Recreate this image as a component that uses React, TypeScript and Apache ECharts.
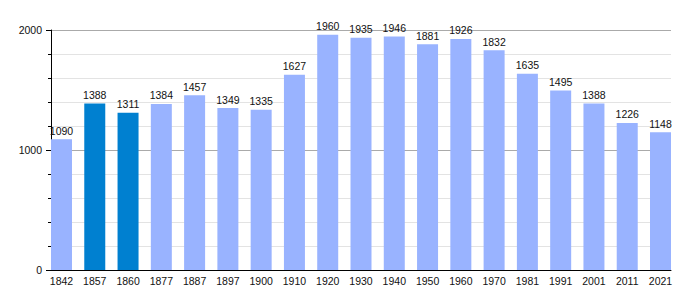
import React, { useEffect, useRef } from "react";
import * as echarts from "echarts";

const years = ["1842","1857","1860","1877","1887","1897","1900","1910","1920","1930","1940","1950","1960","1970","1981","1991","2001","2011","2021"];
const population = [1090,1388,1311,1384,1457,1349,1335,1627,1960,1935,1946,1881,1926,1832,1635,1495,1388,1226,1148];
const highlighted = ["1857","1860"];
const yTicks = [0, 1000, 2000];

const LIGHT = "#99b3ff";
const DARK = "#0080d0";
const FONT = "Liberation Sans";

export default function App() {
  const ref = useRef<HTMLDivElement>(null);
  useEffect(() => {
    if (!ref.current) return;
    const chart = echarts.init(ref.current, undefined, { renderer: "svg" });
    const yMin = yTicks[0];
    const yMax = yTicks[yTicks.length - 1];
    const interval = yTicks[1] - yTicks[0];
    chart.setOption({
      animation: false,
      backgroundColor: "#ffffff",
      grid: [
        { left: 51, right: 29, top: 30, bottom: 30 },
        { left: 44.85, right: 22.85, top: 30, bottom: 30 },
      ],
      xAxis: [
        {
          type: "category",
          gridIndex: 0,
          data: years,
          axisLine: { show: true, lineStyle: { color: "#000", width: 1 } },
          axisTick: { show: false },
          axisLabel: { show: false },
          splitLine: { show: false },
        },
        {
          type: "category",
          gridIndex: 1,
          data: years,
          axisLine: { show: false },
          axisTick: { show: false },
          axisLabel: { show: true, color: "#111", fontFamily: FONT, fontSize: 10.5, margin: 5 },
          splitLine: { show: false },
        },
      ],
      yAxis: [
        {
          type: "value",
          gridIndex: 0,
          min: yMin,
          max: yMax,
          interval,
          axisLine: { show: true, lineStyle: { color: "#000", width: 1 } },
          axisTick: { show: true, length: 5, lineStyle: { color: "#000" } },
          minorTick: { show: true, splitNumber: 5, length: 3, lineStyle: { color: "#000" } },
          axisLabel: {
            color: "#111",
            fontFamily: FONT,
            fontSize: 10.5,
            margin: 9,
            formatter: (v: number) => String(v),
          },
          splitLine: { show: true, lineStyle: { color: "#aaaaaa", width: 1 } },
          minorSplitLine: { show: true, lineStyle: { color: "#e3e3e3", width: 1 } },
        },
        {
          type: "value",
          gridIndex: 1,
          min: yMin,
          max: yMax,
          interval,
          show: false,
          splitLine: { show: false },
        },
      ],
      series: [
        {
          type: "bar",
          xAxisIndex: 1,
          yAxisIndex: 1,
          barWidth: 21,
          z: 3,
          data: population.map((v, i) => ({
            value: v,
            itemStyle: { color: highlighted.includes(years[i]) ? DARK : LIGHT },
          })),
          label: {
            show: true,
            position: "top",
            distance: 3,
            color: "#111",
            fontFamily: FONT,
            fontSize: 10.5,
          },
        },
      ],
    });
    return () => chart.dispose();
  }, []);
  return (
    <div
      ref={ref}
      style={{ position: "absolute", left: 0, top: 0, width: 700, height: 300 }}
    />
  );
}
